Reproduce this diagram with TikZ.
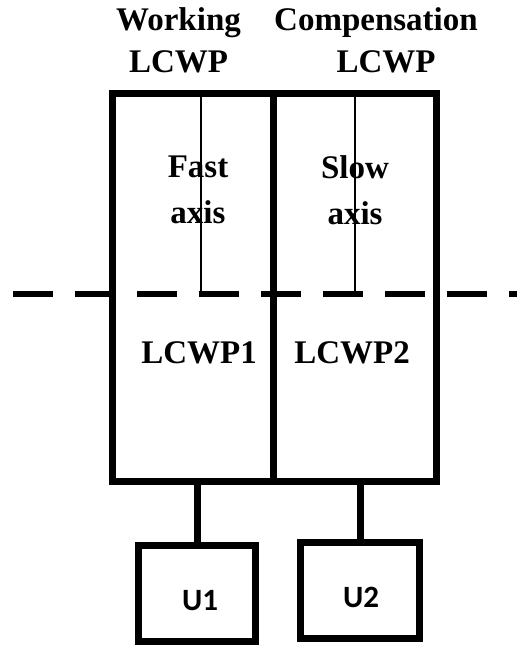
\documentclass[tikz,border=0pt]{standalone}
\usepackage{fontspec}
\setmainfont{Liberation Serif}
\setsansfont{Carlito}
\usepackage{tikz}
\usetikzlibrary{positioning,calc}

\begin{document}
\begin{tikzpicture}[x=0.5pt,y=-0.5pt,
  cell/.style={draw,line width=3.5pt,minimum height=193.75pt,inner sep=0pt},
  unit/.style={draw,line width=3.5pt,minimum height=48pt,inner sep=0pt},
  lbl/.style={font=\bfseries\fontsize{16.5}{21}\selectfont,align=center,anchor=base,inner sep=0pt},
  ulbl/.style={font=\sffamily\bfseries\fontsize{15.5}{18}\selectfont,anchor=base,inner sep=0pt},
  wire/.style={line width=3.5pt},
  axisline/.style={line width=1pt}]
\useasboundingbox (0,0) rectangle (517,647);
% the two waveplates
\node[cell,minimum width=80.75pt] (w1) at (192.75,287.25) {};
\node[cell,minimum width=81.5pt] (w2) at (355,287.25) {};
% optical axes and beam
\coordinate (fa) at (201,294);
\coordinate (sa) at (355,294);
\draw[axisline] (fa) -- (fa |- w1.north);
\draw[axisline] (sa) -- (sa |- w2.north);
\coordinate (bl) at (13,294);
\coordinate (br) at (517,294);
\draw[line width=3pt,dash pattern=on 20pt off 11pt] (bl) -- (br);
% labels
\node[lbl] (work) at (178.5,73) {Working\\LCWP};
\node[lbl] (comp) at (376,73) {Compensation\\\hspace*{10pt}LCWP};
\node[lbl,font=\bfseries\fontsize{16.5}{23}\selectfont] (fast) at (198,223) {Fast\\axis};
\node[lbl,font=\bfseries\fontsize{16.5}{23}\selectfont] (slow) at (355,224) {Slow\\axis};
\node[lbl] (n1) at (199,363) {LCWP1};
\node[lbl] (n2) at (352,363) {LCWP2};
% drivers
\node[unit,minimum width=58.5pt] (u1) at (197,593.5) {};
\node[unit,minimum width=59.5pt] (u2) at (360,590.5) {};
\node[ulbl] (t1) at (200,610) {U1};
\node[ulbl] (t2) at (361,607) {U2};
\draw[wire] (u1.north) -- (u1.north |- w1.south);
\draw[wire] (u2.north) -- (u2.north |- w2.south);
\end{tikzpicture}
\end{document}
